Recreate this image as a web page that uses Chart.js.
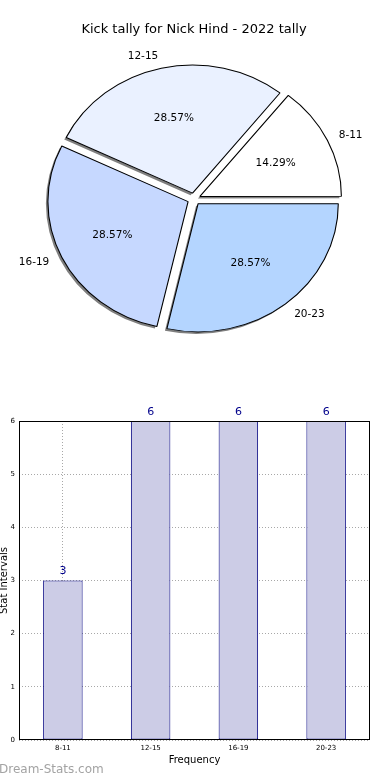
<!DOCTYPE html>
<html>
<head>
<meta charset="utf-8">
<script src="https://cdn.jsdelivr.net/npm/chart.js@4.4.1/dist/chart.umd.min.js"></script>
<style>
  body { margin: 0; background: #fff; }
  #wrap { position: relative; width: 390px; height: 780px; overflow: hidden; }
  #pieChart { position: absolute; left: 0; top: 0; }
  #barChart { position: absolute; left: 0; top: 380px; }
  #mark { position: absolute; left: -1px; top: 762px; font: 12px "DejaVu Sans", sans-serif; color: #a3a3a3; }
</style>
</head>
<body>
<div id="wrap">
  <canvas id="pieChart" width="390" height="380"></canvas>
  <canvas id="barChart" width="390" height="400"></canvas>
  <div id="mark">Dream-Stats.com</div>
</div>
<script>
// chart data
const chartTitle = 'Kick tally for Nick Hind - 2022 tally';
const categories = ['8-11', '12-15', '16-19', '20-23'];
const tallyValues = [3, 6, 6, 6];
const yMax = 6;
const xAxisTitle = 'Frequency';
const yAxisTitle = 'Stat Intervals';

// colours per slice (same order as categories)
const sliceColors = ['#ffffff', '#eaf1ff', '#c6d8ff', '#b4d5ff'];

document.addEventListener('DOMContentLoaded', function() {

    const total = tallyValues.reduce((a, b) => a + b, 0);
    const stretchX = 1.094; // pie is a bit wider than tall
    const pieRadius = 128;
    const explode = 6;      // px each slice is pushed out

    // matplotlib goes counter-clockwise from 3 o'clock, Chart.js clockwise -> reverse
    const pieLabels = categories.slice().reverse();
    const pieValues = tallyValues.slice().reverse();
    const pieColors = sliceColors.slice().reverse();

    // stretch + drop shadow under the arcs, then labels
    const piePlugin = {
        id: 'piePlugin',
        beforeDatasetsDraw(chart) {
            const ctx = chart.ctx;
            const area = chart.chartArea;
            const cx = (area.left + area.right) / 2;
            const cy = (area.top + area.bottom) / 2;
            ctx.save();
            ctx.translate(cx, cy);
            ctx.scale(stretchX, 1);
            ctx.translate(-cx, -cy);

            // shadow pass: fill only, so the outline gets no shadow
            ctx.save();
            ctx.shadowColor = 'rgba(0,0,0,0.5)';
            ctx.shadowOffsetX = -2;
            ctx.shadowOffsetY = 2;
            ctx.shadowBlur = 0;
            chart.getDatasetMeta(0).data.forEach(arc => {
                const orig = arc.options;
                arc.options = Object.assign({}, orig, { borderWidth: 0 });
                arc.draw(ctx);
                arc.options = orig;
            });
            ctx.restore();
        },
        afterDatasetsDraw(chart) {
            const ctx = chart.ctx;
            ctx.restore();
            const area = chart.chartArea;
            const cx = (area.left + area.right) / 2;
            const cy = (area.top + area.bottom) / 2;
            ctx.save();
            ctx.fillStyle = '#000';
            ctx.font = '10.5px "DejaVu Sans"';
            ctx.textBaseline = 'middle';
            chart.getDatasetMeta(0).data.forEach((arc, i) => {
                const mid = (arc.startAngle + arc.endAngle) / 2;
                const dx = Math.cos(mid);
                const dy = Math.sin(mid);
                // outer label
                let d = pieRadius * 1.1 + explode;
                ctx.textAlign = dx >= 0 ? 'left' : 'right';
                ctx.fillText(pieLabels[i], cx + stretchX * d * dx, cy + d * dy);
                // percentage
                d = pieRadius * 0.6 + explode;
                ctx.textAlign = 'center';
                const pct = (pieValues[i] / total * 100).toFixed(2) + '%';
                ctx.fillText(pct, cx + stretchX * d * dx, cy + d * dy);
            });
            ctx.restore();
        }
    };

    new Chart(document.getElementById('pieChart'), {
        type: 'pie',
        data: {
            labels: pieLabels,
            datasets: [{
                data: pieValues,
                backgroundColor: pieColors,
                borderColor: '#000',
                borderWidth: 1,
                offset: explode * 4 // Chart.js moves arcs by offset/4
            }]
        },
        options: {
            responsive: false,
            animation: false,
            events: [],
            rotation: 90,
            radius: pieRadius,
            layout: { padding: { right: 2, bottom: 19.6 } },
            plugins: {
                legend: { display: false },
                tooltip: { enabled: false },
                title: {
                    display: true,
                    text: chartTitle,
                    color: '#000',
                    font: { family: 'DejaVu Sans', size: 13, weight: 'normal' },
                    padding: { top: 22, bottom: 0 }
                }
            }
        },
        plugins: [piePlugin]
    });

    // frame and value labels for the bar chart
    const barPlugin = {
        id: 'barPlugin',
        afterDatasetsDraw(chart) {
            const ctx = chart.ctx;
            ctx.save();
            ctx.fillStyle = '#00008b';
            ctx.font = '11px "DejaVu Sans"';
            ctx.textAlign = 'center';
            ctx.textBaseline = 'middle';
            chart.getDatasetMeta(0).data.forEach((bar, i) => {
                ctx.fillText(String(tallyValues[i]), bar.x, bar.y - 9);
            });
            ctx.restore();
        },
        afterDraw(chart) {
            const ctx = chart.ctx;
            const a = chart.chartArea;
            ctx.save();
            ctx.strokeStyle = '#000';
            ctx.lineWidth = 1;
            ctx.strokeRect(a.left + 0.5, a.top + 0.5, a.width - 1, a.height - 1);
            ctx.restore();
        }
    };

    const gridStyle = {
        color: '#a8a8a8',
        lineWidth: 1,
        drawTicks: false,
        offset: false
    };
    // in v4 the dash of the grid lines lives under border
    const dotted = { display: false, dash: [1, 2] };

    new Chart(document.getElementById('barChart'), {
        type: 'bar',
        data: {
            labels: categories,
            datasets: [{
                data: tallyValues,
                backgroundColor: '#ccccE6',
                borderColor: '#000080',
                borderWidth: 1,
                borderSkipped: false,
                categoryPercentage: 1,
                barPercentage: 0.45
            }]
        },
        options: {
            responsive: false,
            animation: false,
            events: [],
            layout: { padding: { top: 41, right: 20 } },
            plugins: {
                legend: { display: false },
                tooltip: { enabled: false }
            },
            scales: {
                x: {
                    z: 1,
                    grid: gridStyle,
                    border: dotted,
                    ticks: { color: '#000', font: { family: 'DejaVu Sans', size: 7 }, padding: 4, maxRotation: 0 },
                    title: {
                        display: true,
                        text: xAxisTitle,
                        color: '#000',
                        font: { family: 'DejaVu Sans', size: 10 },
                        padding: { top: 0, bottom: 14 }
                    },
                    afterFit(scale) { scale.height = 40; }
                },
                y: {
                    z: 1,
                    min: 0,
                    max: yMax,
                    grid: gridStyle,
                    border: dotted,
                    ticks: { stepSize: 1, color: '#000', font: { family: 'DejaVu Sans', size: 7 }, padding: 4 },
                    title: {
                        display: true,
                        text: yAxisTitle,
                        color: '#000',
                        font: { family: 'DejaVu Sans', size: 10 },
                        padding: { top: -2, bottom: 0 }
                    },
                    afterFit(scale) { scale.width = 19; }
                }
            }
        },
        plugins: [barPlugin]
    });
});
</script>
</body>
</html>
